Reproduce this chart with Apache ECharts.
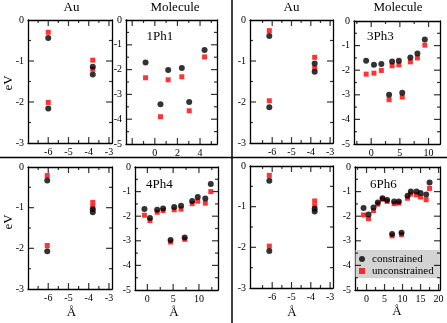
<!DOCTYPE html>
<html>
<head>
<meta charset="utf-8">
<script src="https://cdn.jsdelivr.net/npm/echarts@6/dist/echarts.min.js"></script>
<style>
  html, body { margin: 0; padding: 0; background: #fff; }
  #chart { width: 447px; height: 323px; }
</style>
</head>
<body>
<div id="chart"></div>
<script>
// 数据：每个面板的 x 位置与两组能级
const au1X = [-6.0, -6.0, -3.8, -3.8];
const au1Con = [-0.44, -2.16, -1.14, -1.33];
const au1Unc = [-0.30, -2.01, -0.98, -1.20];

const ph1X = [-0.82, 0.50, 1.18, 2.39, 3.04, 4.40];
const ph1Con = [-1.71, -3.40, -2.02, -1.94, -3.31, -1.21];
const ph1Unc = [-2.33, -3.90, -2.41, -2.29, -3.66, -1.49];

const au3X = [-6.15, -6.15, -3.8, -3.8];
const au3Con = [-0.39, -2.13, -1.06, -1.26];
const au3Unc = [-0.26, -1.97, -0.91, -1.17];

const ph3X = [-0.88, 0.48, 1.77, 3.12, 3.65, 4.83, 5.42, 6.83, 8.06, 9.35];
const ph3Con = [-1.62, -1.78, -1.75, -3.00, -1.65, -1.62, -2.92, -1.48, -1.32, -0.75];
const ph3Unc = [-2.16, -2.12, -2.01, -3.20, -1.82, -1.78, -3.09, -1.66, -1.50, -0.98];

const au4X = [-6.05, -6.05, -3.8, -3.8];
const au4Con = [-0.33, -2.07, -1.04, -1.11];
const au4Unc = [-0.21, -1.93, -0.87, -0.98];

const ph4X = [-0.57, 0.50, 1.90, 3.05, 4.50, 5.20, 6.53, 7.24, 8.69, 9.77, 11.24, 12.30];
const ph4Con = [-1.71, -2.07, -1.74, -1.69, -2.97, -1.63, -1.58, -2.87, -1.38, -1.22, -1.28, -0.69];
const ph4Unc = [-1.96, -2.18, -1.84, -1.77, -3.05, -1.74, -1.71, -2.94, -1.49, -1.39, -1.47, -1.00];

const au6X = [-6.15, -6.15, -3.8, -3.8];
const au6Con = [-0.36, -2.09, -1.05, -1.12];
const au6Unc = [-0.23, -1.97, -0.86, -0.98];

const ph6X = [-0.83, 0.56, 1.94, 3.14, 4.44, 5.72, 7.11, 7.67, 8.97, 9.72, 11.39, 12.31, 13.89, 15.0, 16.56, 17.5];
const ph6Con = [-1.67, -1.93, -1.65, -1.44, -1.27, -1.34, -2.72, -1.40, -1.40, -2.67, -1.17, -1.00, -1.00, -1.06, -1.12, -0.63];
const ph6Unc = [-1.95, -2.10, -1.77, -1.51, -1.31, -1.40, -2.80, -1.49, -1.47, -2.75, -1.27, -1.10, -1.13, -1.22, -1.33, -0.87];

// 刻度
const auXTicks = [-6, -5, -4, -3];
const ph1XTicks = [-2, 0, 2, 4];
const ph1XLabels = [0, 2, 4];
const ph3XTicks = [0, 5, 10];
const ph4XTicks = [0, 5, 10];
const ph6XTicks = [0, 5, 10, 15, 20];
const auYTicks = [0, -1, -2, -3];
const molYTicks = [0, -1, -2, -3, -4, -5];

const serif = 'Liberation Serif';

const zip = (xs, ys) => xs.map((x, i) => [x, ys[i]]);

// 主刻度中点作为次刻度
const minorOf = (ticks, range) => {
  const step = ticks.length > 1 ? Math.abs(ticks[1] - ticks[0]) : 1;
  const out = [];
  const lo = Math.min(...ticks) - step, hi = Math.max(...ticks) + step;
  for (let v = lo + step / 2; v <= hi; v += step) {
    if (v > range[0] && v < range[1]) out.push(v);
  }
  return out;
};

const panels = [
  { grid: { left: 28, top: 20, width: 84, height: 123 }, xr: [-7, -2.85], yr: [-3, 0], xt: auXTicks, xl: auXTicks, yt: auYTicks, x: au1X, con: au1Con, unc: au1Unc },
  { grid: { left: 126, top: 20, width: 91, height: 124 }, xr: [-2.55, 5.5], yr: [-5, 0], xt: ph1XTicks, xl: ph1XLabels, yt: molYTicks, x: ph1X, con: ph1Con, unc: ph1Unc },
  { grid: { left: 250, top: 20, width: 83, height: 123 }, xr: [-7.15, -2.85], yr: [-3, 0], xt: auXTicks, xl: auXTicks, yt: auYTicks, x: au3X, con: au3Con, unc: au3Unc },
  { grid: { left: 354, top: 21, width: 86, height: 123 }, xr: [-3, 12], yr: [-5, 0], xt: ph3XTicks, xl: ph3XTicks, yt: molYTicks, x: ph3X, con: ph3Con, unc: ph3Unc },
  { grid: { left: 28, top: 167, width: 84, height: 122 }, xr: [-7, -2.85], yr: [-3, 0], xt: auXTicks, xl: auXTicks, yt: auYTicks, x: au4X, con: au4Con, unc: au4Unc },
  { grid: { left: 135, top: 167, width: 83, height: 123 }, xr: [-2.4, 13.7], yr: [-5, 0], xt: ph4XTicks, xl: ph4XTicks, yt: molYTicks, x: ph4X, con: ph4Con, unc: ph4Unc },
  { grid: { left: 250, top: 166, width: 83, height: 122 }, xr: [-7.15, -2.85], yr: [-3, 0], xt: auXTicks, xl: auXTicks, yt: auYTicks, x: au6X, con: au6Con, unc: au6Unc },
  { grid: { left: 355, top: 167, width: 85, height: 123 }, xr: [-3.2, 20.4], yr: [-5, 0], xt: ph6XTicks, xl: ph6XTicks, yt: molYTicks, x: ph6X, con: ph6Con, unc: ph6Unc }
];

const labelFont = { fontFamily: serif, fontSize: 10, color: '#000' };
const frameLine = { show: true, onZero: false, lineStyle: { color: '#000', width: 1.3 } };

// 一对轴：带标签的一侧 + 对侧（只画框线）
const axisPair = (gi, range, labels, pos, opp) => {
  const base = {
    gridIndex: gi, type: 'value', min: range[0], max: range[1],
    splitLine: { show: false }, axisTick: { show: false }, axisLine: frameLine
  };
  return [
    Object.assign({}, base, { position: pos, axisLabel: Object.assign({ customValues: labels, margin: 4 }, labelFont) }),
    Object.assign({}, base, { position: opp, axisLabel: { show: false } })
  ];
};

// 朝内的刻度：细长矩形符号，放在框边上（z 要高，否则被盖住）
const MAJOR = 6, MINOR = 3;
const tickSeries = (gi, data, size, offset) => ({
  type: 'scatter', name: 'ticks', xAxisIndex: gi * 2, yAxisIndex: gi * 2, clip: false,
  data: data, symbol: 'rect', symbolSize: size, symbolOffset: offset,
  itemStyle: { color: '#000' }, z: 4
});

const grids = [], xAxes = [], yAxes = [], series = [];
panels.forEach((p, gi) => {
  grids.push(p.grid);
  xAxes.push(...axisPair(gi, p.xr, p.xl, 'bottom', 'top'));
  yAxes.push(...axisPair(gi, p.yr, p.yt, 'left', 'right'));

  const xMaj = p.xt.filter(v => v > p.xr[0] && v < p.xr[1]);
  const yMaj = p.yt.filter(v => v > p.yr[0] && v < p.yr[1]);
  const xMin = minorOf(p.xt, p.xr), yMin = minorOf(p.yt, p.yr);
  [[xMaj, MAJOR], [xMin, MINOR]].forEach(([vals, len]) => {
    series.push(tickSeries(gi, vals.map(v => [v, p.yr[0]]), [1.2, len], [0, -len / 2]));
    series.push(tickSeries(gi, vals.map(v => [v, p.yr[1]]), [1.2, len], [0, len / 2]));
  });
  [[yMaj, MAJOR], [yMin, MINOR]].forEach(([vals, len]) => {
    series.push(tickSeries(gi, vals.map(v => [p.xr[0], v]), [len, 1.2], [len / 2, 0]));
    series.push(tickSeries(gi, vals.map(v => [p.xr[1], v]), [len, 1.2], [-len / 2, 0]));
  });

  series.push({
    type: 'scatter', name: 'unconstrained', xAxisIndex: gi * 2, yAxisIndex: gi * 2,
    data: zip(p.x, p.unc), symbol: 'rect', symbolSize: 5, itemStyle: { color: '#ff0000' }, z: 5
  });
  series.push({
    type: 'scatter', name: 'constrained', xAxisIndex: gi * 2, yAxisIndex: gi * 2,
    data: zip(p.x, p.con), symbol: 'circle', symbolSize: 6, itemStyle: { color: '#000' }, z: 6
  });
});

const txt = (x, y, s, opts) => ({
  type: 'text', x: x, y: y, rotation: (opts && opts.rotation) || 0, z: 10,
  style: {
    text: s, fontFamily: serif, fontSize: (opts && opts.size) || 13, fill: '#000',
    textAlign: (opts && opts.align) || 'center', textVerticalAlign: 'middle'
  }
});

const graphics = [
  { type: 'line', shape: { x1: 232, y1: 0, x2: 232, y2: 323 }, style: { stroke: '#000', lineWidth: 1.5 } },
  { type: 'line', shape: { x1: 0, y1: 157.5, x2: 447, y2: 157.5 }, style: { stroke: '#000', lineWidth: 1.5 } },
  { type: 'rect', shape: { x: 355.5, y: 250, width: 84, height: 28 }, style: { fill: '#d3d3d3' }, z: 1 },
  txt(71.5, 8, 'Au'), txt(175, 8, 'Molecule'), txt(291.5, 8, 'Au'), txt(398, 8, 'Molecule'),
  txt(146.5, 37, '1Ph1', { align: 'left' }), txt(367, 37, '3Ph3', { align: 'left' }),
  txt(146, 185, '4Ph4', { align: 'left' }), txt(370, 185, '6Ph6', { align: 'left' }),
  txt(9, 83, 'eV', { rotation: Math.PI / 2 }), txt(9, 222, 'eV', { rotation: Math.PI / 2 }),
  txt(71.5, 313, 'Å'), txt(174, 313, 'Å'), txt(292, 313, 'Å'), txt(397, 312, 'Å')
];

const chart = echarts.init(document.getElementById('chart'));
chart.setOption({
  animation: false,
  backgroundColor: '#fff',
  grid: grids,
  xAxis: xAxes,
  yAxis: yAxes,
  series: series,
  legend: {
    data: [{ name: 'constrained', icon: 'circle' }, { name: 'unconstrained', icon: 'rect' }],
    orient: 'vertical', left: 359, top: 253, padding: 0, itemGap: 0,
    itemWidth: 6, itemHeight: 6, selectedMode: false, z: 7,
    textStyle: { fontFamily: serif, fontSize: 11, color: '#000', lineHeight: 12, padding: [0, 0, 0, 2] }
  },
  graphic: graphics
});
</script>
</body>
</html>
